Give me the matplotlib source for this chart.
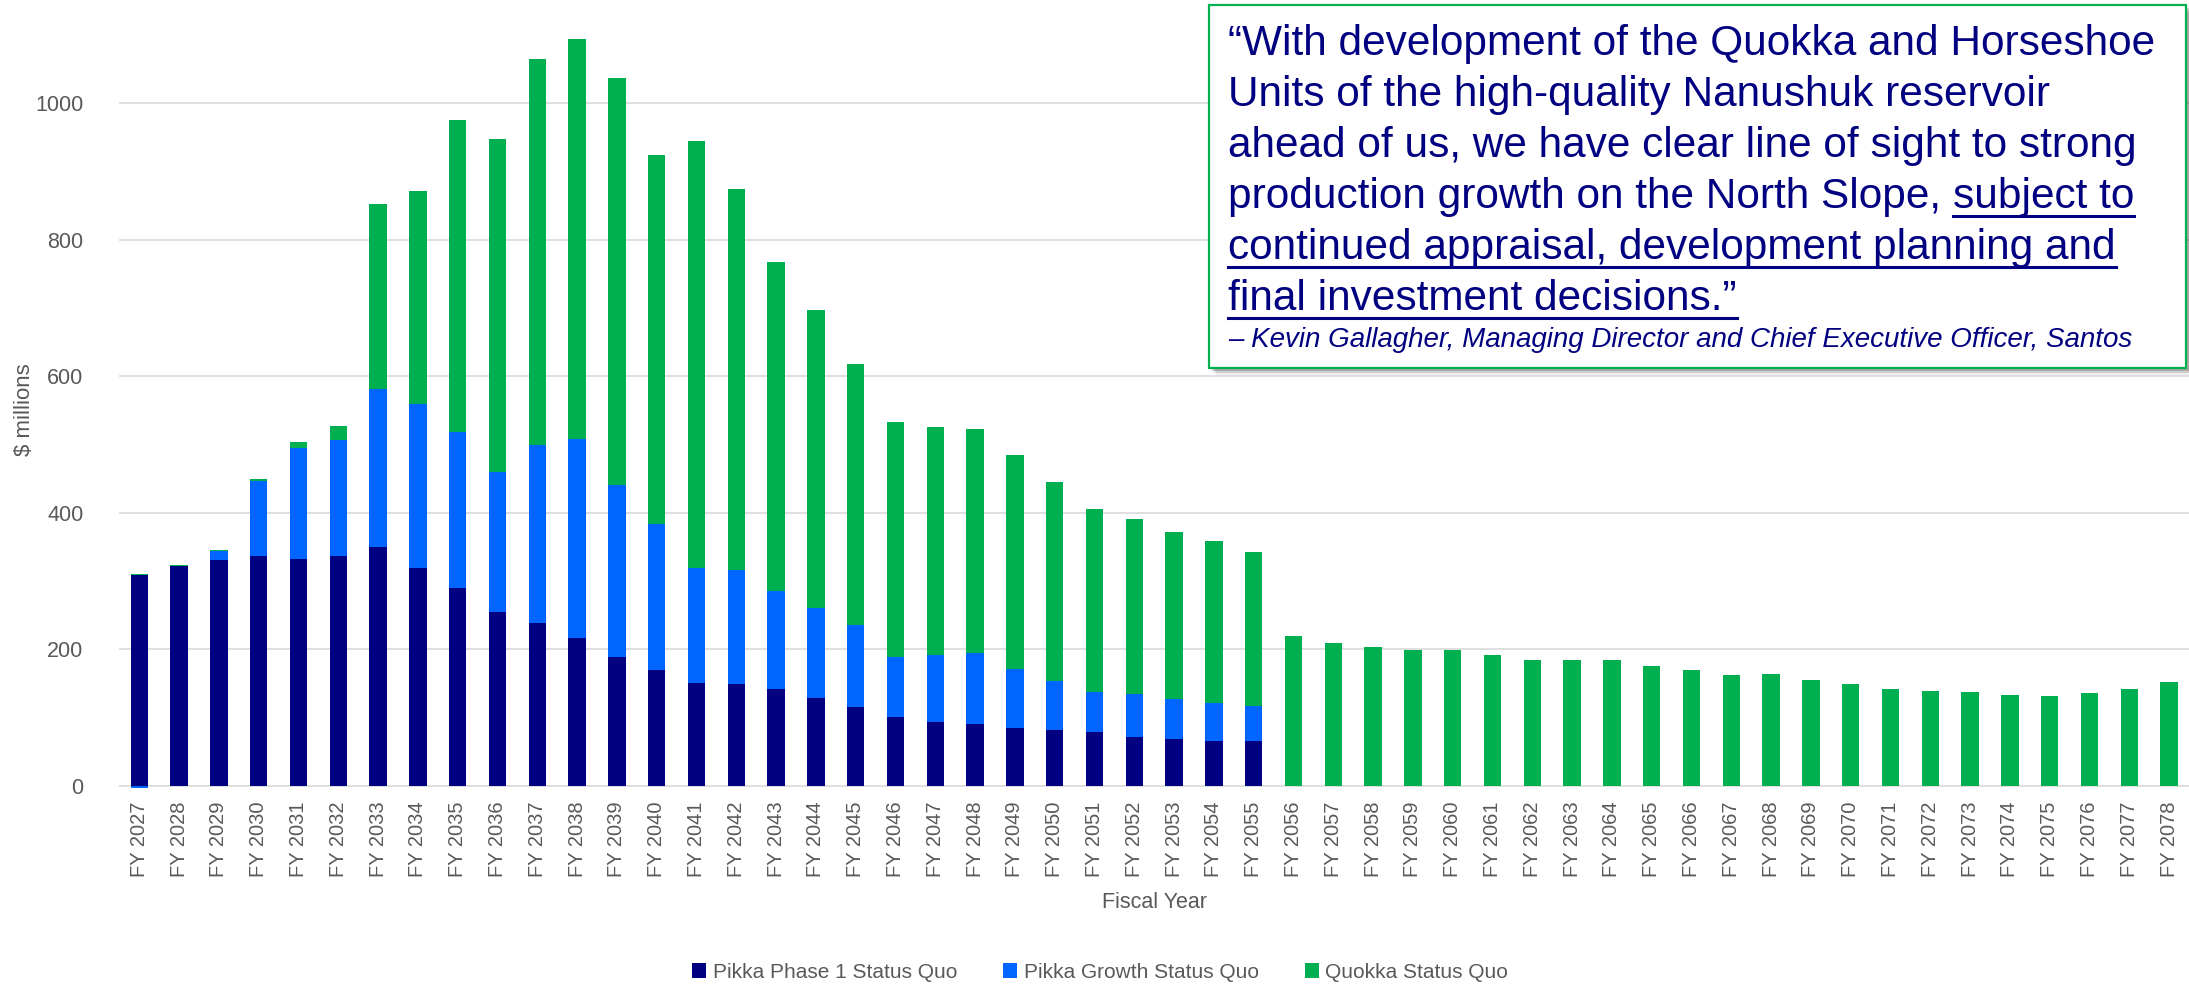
import numpy as np
import matplotlib
matplotlib.use("Agg")
import matplotlib.pyplot as plt
from matplotlib.patches import Patch, Rectangle
from matplotlib.lines import Line2D

plt.rcParams['font.family'] = ['Liberation Sans', 'DejaVu Sans']

# Datos
years = list(range(2027, 2079))
labels = [f"FY {y}" for y in years]

pikka_phase1 = [309, 322, 331, 337, 332, 337, 350, 319, 289, 254, 239, 217, 189, 170,
                151, 149, 141, 129, 116, 100, 93, 91, 85, 82, 78, 72, 68, 66, 65,
                0, 0, 0, 0, 0, 0, 0, 0, 0, 0, 0, 0, 0, 0, 0, 0, 0, 0, 0, 0, 0, 0, 0]
pikka_growth = [-3, 0, 12.5, 110, 163, 170, 232, 241, 229, 206, 261, 291.5, 251.5, 213.5,
                168.5, 166.5, 144, 131, 119.5, 88, 98, 104, 86.5, 72, 59, 63, 58.5, 55, 52,
                0, 0, 0, 0, 0, 0, 0, 0, 0, 0, 0, 0, 0, 0, 0, 0, 0, 0, 0, 0, 0, 0, 0]
quokka = [1.5, 1.5, 1.5, 2, 8, 20, 271, 311, 458, 488, 565, 585.5, 596.5, 541.5,
          626, 559, 483, 436.5, 382, 345, 334, 327.5, 312.5, 291, 268.5, 256, 245, 237.5, 226,
          219, 209.5, 203, 199, 199.5, 191.5, 184.5, 184.5, 184, 175, 169, 162.5, 163,
          154.5, 149, 141.5, 138.5, 137, 133.5, 131.5, 135.5, 141.5, 151.5]

series_names = ["Pikka Phase 1 Status Quo", "Pikka Growth Status Quo", "Quokka Status Quo"]
colors = ["#000080", "#0066FF", "#00B050"]

W, H = 2189, 986
fig = plt.figure(figsize=(W / 100, H / 100), dpi=100)

# ejes en pixeles
left_px, bottom_px = 119.4, 789.1
ax = fig.add_axes([left_px / W, (H - bottom_px) / H, 1 - left_px / W, bottom_px / H])

x = np.arange(len(years))
p1 = np.array(pikka_phase1, dtype=float)
pg = np.array(pikka_growth, dtype=float)
qk = np.array(quokka, dtype=float)

bot_g = np.where(pg >= 0, p1, 0)
bot_q = p1 + np.clip(pg, 0, None)

bw = 0.435
ax.bar(x, p1, bw, color=colors[0], zorder=3)
ax.bar(x, pg, bw, bottom=bot_g, color=colors[1], zorder=3)
ax.bar(x, qk, bw, bottom=bot_q, color=colors[2], zorder=3)

ax.set_xlim(-0.5, len(years) - 0.5)
ax.set_ylim(-5, 1151.5)
ax.set_yticks([0, 200, 400, 600, 800, 1000])
ax.yaxis.grid(True, color="#d9d9d9", lw=1.2, zorder=0)
ax.set_axisbelow(True)
for s in ax.spines.values():
    s.set_visible(False)

ax.set_xticks(x)
ax.set_xticklabels(labels, rotation=90, fontsize=14.5, color="#595959")
ax.tick_params(axis="x", length=0, pad=9)
ax.tick_params(axis="y", length=0, pad=26, labelsize=15.5, labelcolor="#595959")

ax.set_ylabel("$ millions", fontsize=16, color="#595959")
ax.yaxis.label.set_va("center")
ax.yaxis.set_label_coords((25 - left_px) / (W - left_px), (bottom_px - 410) / bottom_px)

fig.text((left_px + W) / 2 / W, 1 - 902 / H, "Fiscal Year", fontsize=15.5,
         color="#595959", ha="center", va="center")

handles = [Patch(facecolor=c, edgecolor="none") for c in colors]
fig.legend(handles, series_names, loc="center", bbox_to_anchor=(1100 / W, 1 - 972 / H),
           ncol=3, frameon=False, fontsize=15, handlelength=0.7, handleheight=0.7,
           handletextpad=0.3, columnspacing=2.2, labelcolor="#595959")

# cuadro de la cita
bx0, by0, bx1, by1 = 1209, 5, 2186, 368
for i, a in enumerate([0.18, 0.12, 0.07]):
    off = 3 + 2 * i
    fig.add_artist(Rectangle((bx0 / W + off / W, 1 - (by1 + off) / H), (bx1 - bx0) / W,
                             (by1 - by0) / H, transform=fig.transFigure,
                             facecolor="black", edgecolor="none", alpha=a, zorder=5))
fig.add_artist(Rectangle((bx0 / W, 1 - by1 / H), (bx1 - bx0) / W, (by1 - by0) / H,
                         transform=fig.transFigure, facecolor="white",
                         edgecolor="#00B050", lw=1.6, zorder=6))

navy = "#000080"
tx = 1228
qsize = 30.5
lines = [
    "\u201cWith development of the Quokka and Horseshoe",
    "Units of the high-quality Nanushuk reservoir",
    "ahead of us, we have clear line of sight to strong",
    "production growth on the North Slope, ",
    "continued appraisal, development planning and",
    "final investment decisions.\u201d",
]
base = [55, 106, 157, 208, 259, 310]
txts = []
for s, b in zip(lines, base):
    t = fig.text(tx / W, 1 - b / H, s, fontsize=qsize, color=navy, ha="left",
                 va="baseline", zorder=7)
    txts.append(t)

fig.canvas.draw()
r = fig.canvas.get_renderer()
ext4 = txts[3].get_window_extent(r)
t_sub = fig.text(ext4.x1 / W, 1 - base[3] / H, "subject to", fontsize=qsize, color=navy,
                 ha="left", va="baseline", zorder=7)

fig.text(tx / W, 1 - 347 / H, "\u2013 Kevin Gallagher, Managing Director and Chief Executive Officer, Santos",
         fontsize=20, color=navy, style="italic", ha="left", va="baseline", zorder=7)

fig.canvas.draw()
r = fig.canvas.get_renderer()
for t, b in [(t_sub, base[3]), (txts[4], base[4]), (txts[5], base[5])]:
    e = t.get_window_extent(r)
    yy = 1 - (b + 8) / H
    fig.add_artist(Line2D([e.x0 / W, e.x1 / W], [yy, yy], transform=fig.transFigure,
                          color=navy, lw=2.2, zorder=7))

fig.savefig("out.png", dpi=100)
